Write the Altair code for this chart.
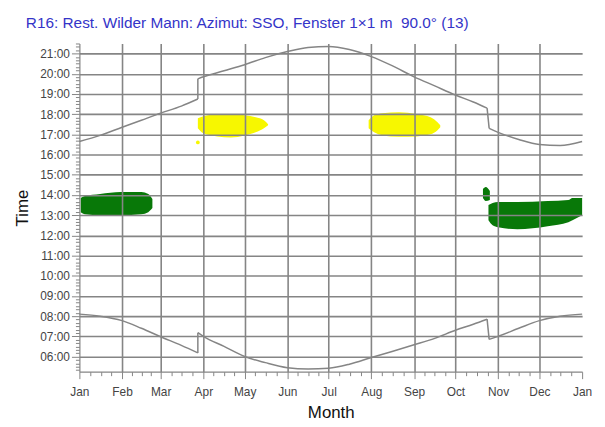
import altair as alt
import pandas as pd

TITLE = "R16: Rest. Wilder Mann: Azimut: SSO, Fenster 1×1 m \u00a090.0° (13)"

# x axis: day of year
month_days = [0, 31, 59, 90, 120, 151, 181, 212, 243, 273, 304, 334, 365]
month_names = ["Jan", "Feb", "Mar", "Apr", "May", "Jun", "Jul",
               "Aug", "Sep", "Oct", "Nov", "Dec", "Jan"]

# sunset / sunrise (local clock time, hours),
# split at the daylight-saving jumps: winter (Jan-Mar), summer, winter (Oct-Dec)
sunset_w1_day = [0, 15, 31, 45, 59, 74, 86]
sunset_w1_t = [16.65, 16.95, 17.35, 17.7, 18.05, 18.4, 18.75]
sunset_s_day = [86, 90, 105, 120, 135, 151, 166, 181, 196, 212, 227, 243, 258, 273, 286, 296]
sunset_s_t = [19.75, 19.85, 20.15, 20.45, 20.8, 21.1, 21.3, 21.35, 21.2, 20.85, 20.4,
              19.85, 19.4, 18.95, 18.6, 18.3]
sunset_w2_day = [297.5, 304, 319, 334, 349, 365]
sunset_w2_t = [17.3, 17.1, 16.75, 16.5, 16.45, 16.65]

sunrise_w1_day = [0, 15, 31, 45, 59, 74, 86]
sunrise_w1_t = [8.1, 8.0, 7.78, 7.4, 6.98, 6.55, 6.18]
sunrise_s_day = [86, 90, 105, 120, 135, 151, 166, 181, 196, 212, 227, 243, 258, 273, 286, 296]
sunrise_s_t = [7.18, 7.0, 6.5, 6.0, 5.7, 5.45, 5.38, 5.42, 5.62, 5.95, 6.25, 6.58, 6.9,
               7.3, 7.6, 7.85]
sunrise_w2_day = [297.5, 304, 319, 334, 349, 365]
sunrise_w2_t = [6.85, 7.0, 7.4, 7.78, 8.0, 8.1]

# sunlit patches: (day, top, bottom)
yellow1_day = [86, 90, 100, 110, 120, 128, 134, 137]
yellow1_top = [17.8, 17.9, 18.0, 18.0, 17.95, 17.85, 17.7, 17.5]
yellow1_bot = [17.3, 17.05, 16.9, 16.85, 16.95, 17.1, 17.3, 17.45]

yellow2_day = [210, 214, 220, 232, 245, 255, 260, 262]
yellow2_top = [17.7, 17.95, 18.05, 18.1, 18.0, 17.85, 17.6, 17.45]
yellow2_bot = [17.3, 17.1, 16.95, 16.88, 16.9, 17.0, 17.2, 17.35]

green1_day = [1, 4, 15, 30, 45, 50, 53]
green1_top = [13.85, 13.95, 14.05, 14.15, 14.15, 14.05, 13.8]
green1_bot = [13.15, 13.05, 13.0, 13.0, 13.05, 13.15, 13.35]

green2_day = [297, 300, 304, 318, 340, 355, 358, 365]
green2_top = [13.5, 13.6, 13.65, 13.65, 13.7, 13.75, 13.85, 13.85]
green2_bot = [12.75, 12.5, 12.4, 12.3, 12.45, 12.65, 12.75, 13.0]

green3_day = [293, 295, 298]
green3_top = [14.3, 14.4, 14.2]
green3_bot = [13.85, 13.7, 13.75]

dot_day = [86]
dot_t = [16.6]

YELLOW = "#f7f700"
GREEN = "#087808"
GRAY = "#858585"
FONT = "Liberation Sans"

# ---- tables ----
segments = [
    ("sunset_w1", sunset_w1_day, sunset_w1_t),
    ("sunset_s", sunset_s_day, sunset_s_t),
    ("sunset_w2", sunset_w2_day, sunset_w2_t),
    ("sunrise_w1", sunrise_w1_day, sunrise_w1_t),
    ("sunrise_s", sunrise_s_day, sunrise_s_t),
    ("sunrise_w2", sunrise_w2_day, sunrise_w2_t),
]
rows = []
for name, d, t in segments:
    for i, (a, b) in enumerate(zip(d, t)):
        rows.append({"seg": name, "i": i, "day": a, "t": b})
lines_df = pd.DataFrame(rows)

# the clock-change jumps join the end of one segment to the start of the next
jump_rows = []
for k, (a, b) in enumerate([(0, 1), (1, 2), (3, 4), (4, 5)]):
    _, da, ta = segments[a]
    _, db, tb = segments[b]
    jump_rows.append({"seg": f"j{k}", "i": 0, "day": da[-1], "t": ta[-1]})
    jump_rows.append({"seg": f"j{k}", "i": 1, "day": db[0], "t": tb[0]})
jumps_df = pd.DataFrame(jump_rows)

rows = []
for name, col, d, tp, bt in [("y1", YELLOW, yellow1_day, yellow1_top, yellow1_bot),
                              ("y2", YELLOW, yellow2_day, yellow2_top, yellow2_bot),
                              ("g1", GREEN, green1_day, green1_top, green1_bot),
                              ("g2", GREEN, green2_day, green2_top, green2_bot),
                              ("g3", GREEN, green3_day, green3_top, green3_bot)]:
    for a, b, c in zip(d, tp, bt):
        rows.append({"blob": name, "col": col, "day": a, "top": b, "bot": c})
blobs_df = pd.DataFrame(rows)

dot_df = pd.DataFrame({"day": dot_day, "t": dot_t})

# ---- axes ----
minor_days = []
for s, e in zip(month_days[:-1], month_days[1:]):
    L = e - s
    minor_days += [s + L / 4, s + L / 2, s + 3 * L / 4]
x_values = sorted(month_days + minor_days)
major_list = "[" + ",".join(str(v) for v in month_days) + "]"
grid_list = "[" + ",".join(str(v) for v in month_days[1:-1]) + "]"
names_list = "[" + ",".join("'%s'" % n for n in month_names) + "]"

x_axis = alt.Axis(
    values=x_values,
    labelExpr=f"indexof({major_list}, datum.value) >= 0 ? {names_list}[indexof({major_list}, datum.value)] : ''",
    tickSize={"condition": {"test": f"indexof({major_list}, datum.value) >= 0", "value": 7}, "value": 4},
    gridOpacity={"condition": {"test": f"indexof({grid_list}, datum.value) >= 0", "value": 1}, "value": 0},
    grid=True, gridColor=GRAY, gridWidth=1.6,
    labelOverlap=False, labelFlush=False, labelPadding=8,
    domainColor=GRAY, tickColor=GRAY, domainWidth=1.2,
    labelColor="#444444", labelFontSize=12, labelFont=FONT,
    titleFontSize=17, titleFont=FONT, titleFontWeight="normal", titleColor="#111111",
    titlePadding=7, zindex=1,
)

y_values = [round(m / 60, 6) for m in range(320, 1291, 10)]
major_test = "abs(datum.value - round(datum.value)) < 0.001"
y_axis = alt.Axis(
    values=y_values,
    labelExpr=f"{major_test} ? (round(datum.value) < 10 ? '0' : '') + round(datum.value) + ':00' : ''",
    tickSize={"condition": {"test": major_test, "value": 8}, "value": 4},
    gridOpacity={"condition": {"test": major_test, "value": 1}, "value": 0},
    grid=True, gridColor=GRAY, gridWidth=1.6,
    labelOverlap=False, labelPadding=2,
    domainColor=GRAY, tickColor=GRAY, domainWidth=1.2,
    labelColor="#444444", labelFontSize=12, labelFont=FONT,
    titleFontSize=17, titleFont=FONT, titleFontWeight="normal", titleColor="#111111",
    titlePadding=8, zindex=1,
)

x_scale = alt.Scale(domain=[0, 365], nice=False, zero=False)
y_scale = alt.Scale(domain=[5.25, 21.5], nice=False, zero=False)


def X(field="day"):
    return alt.X(f"{field}:Q", scale=x_scale, axis=x_axis, title="Month")


def Y(field):
    return alt.Y(f"{field}:Q", scale=y_scale, axis=y_axis, title="Time")


blobs = alt.Chart(blobs_df).mark_area(interpolate="monotone").encode(
    x=X(), y=Y("top"), y2="bot:Q", detail="blob:N",
    color=alt.Color("col:N", scale=None),
)

dot = alt.Chart(dot_df).mark_circle(size=14, color=YELLOW, opacity=1).encode(
    x=X(), y=Y("t"),
)

lines = alt.Chart(lines_df).mark_line(color=GRAY, strokeWidth=1.5, interpolate="monotone").encode(
    x=X(), y=Y("t"), detail="seg:N", order="i:Q",
)

jumps = alt.Chart(jumps_df).mark_line(color=GRAY, strokeWidth=1.5).encode(
    x=X(), y=Y("t"), detail="seg:N", order="i:Q",
)

chart = alt.layer(blobs, dot, lines, jumps).properties(
    width=507, height=331,
    title=alt.TitleParams(
        text=TITLE, anchor="start", frame="bounds", dx=12, offset=6,
        fontSize=15.5, fontWeight="normal", color="#3434c8", font=FONT,
    ),
    padding={"left": 5, "right": 5, "top": 6, "bottom": 5},
).configure_view(stroke=None)

chart.save("out.html", embed_options={"renderer": "svg", "actions": False})
